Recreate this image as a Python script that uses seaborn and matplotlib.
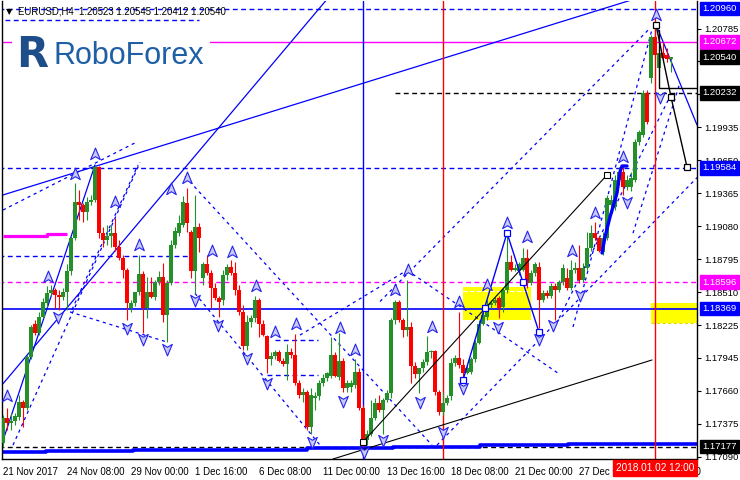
import matplotlib
matplotlib.use('Agg')
import matplotlib.pyplot as plt
import matplotlib.transforms as mtransforms
from matplotlib.path import Path
import seaborn as sns
import pandas as pd

sns.set_theme(style='white')
plt.rcParams['font.family'] = ['Liberation Sans', 'DejaVu Sans']

# VELAS EURUSD H4
###########################################################################################################
aperturas = [1.1721, 1.1742, 1.1738, 1.1740, 1.1743, 1.1756, 1.1751, 1.1795, 1.1824, 1.1816,
             1.1830, 1.1842, 1.1850, 1.1853, 1.1849, 1.1847, 1.1851, 1.1869, 1.1898, 1.1929,
             1.1926, 1.1920, 1.1929, 1.1931, 1.1959, 1.1902, 1.1896, 1.1900, 1.1902, 1.1890,
             1.1881, 1.1870, 1.1837, 1.1842, 1.1851, 1.1867, 1.1837, 1.1851, 1.1847, 1.1860,
             1.1864, 1.1831, 1.1859, 1.1892, 1.1902, 1.1909, 1.1928, 1.1903, 1.1869, 1.1907,
             1.1863, 1.1875, 1.1868, 1.1855, 1.1846, 1.1844, 1.1866, 1.1873, 1.1868, 1.1853,
             1.1834, 1.1805, 1.1825, 1.1829, 1.1844, 1.1824, 1.1813, 1.1793, 1.1796, 1.1799,
             1.1792, 1.1789, 1.1799, 1.1797, 1.1773, 1.1762, 1.1765, 1.1735, 1.1760, 1.1761,
             1.1773, 1.1777, 1.1779, 1.1797, 1.1778, 1.1792, 1.1768, 1.1769, 1.1771, 1.1782,
             1.1751, 1.1723, 1.1729, 1.1742, 1.1755, 1.1749, 1.1758, 1.1764, 1.1827, 1.1843,
             1.1827, 1.1818, 1.1821, 1.1787, 1.1780, 1.1786, 1.1791, 1.1799, 1.1800, 1.1765,
             1.1748, 1.1755, 1.1761, 1.1790, 1.1794, 1.1788, 1.1781, 1.1782, 1.1793, 1.1807,
             1.1824, 1.1830, 1.1840, 1.1842, 1.1846, 1.1838, 1.1853, 1.1877, 1.1870, 1.1869,
             1.1870, 1.1881, 1.1859, 1.1868, 1.1873, 1.1844, 1.1850, 1.1848, 1.1856, 1.1853,
             1.1860, 1.1863, 1.1855, 1.1870, 1.1872, 1.1862, 1.1872, 1.1889, 1.1902, 1.1898,
             1.1886, 1.1898, 1.1926, 1.1925, 1.1948, 1.1955, 1.1942, 1.1942, 1.1948, 1.1981,
             1.1987, 1.2023, 1.2036, 1.2071, 1.2045, 1.2058, 1.2056, 1.20523]
maximos = [1.1745, 1.1751, 1.1747, 1.1747, 1.1762, 1.1758, 1.1797, 1.1823, 1.1827, 1.1834,
           1.1846, 1.1856, 1.1857, 1.1855, 1.1853, 1.1855, 1.1875, 1.1900, 1.1945, 1.1939,
           1.1928, 1.1933, 1.1935, 1.1961, 1.1960, 1.1907, 1.1909, 1.1909, 1.1915, 1.1896,
           1.1883, 1.1872, 1.1844, 1.1849, 1.1883, 1.1869, 1.1864, 1.1864, 1.1862, 1.1869,
           1.1876, 1.1862, 1.1896, 1.1907, 1.1918, 1.1934, 1.1941, 1.1905, 1.1935, 1.1911,
           1.1877, 1.1883, 1.1870, 1.1859, 1.1848, 1.1870, 1.1875, 1.1879, 1.1877, 1.1857,
           1.1840, 1.1831, 1.1831, 1.1848, 1.1846, 1.1827, 1.1814, 1.1799, 1.1801, 1.1801,
           1.1794, 1.1806, 1.1803, 1.1815, 1.1775, 1.1768, 1.1767, 1.1768, 1.1765, 1.1775,
           1.1780, 1.1782, 1.1812, 1.1799, 1.1816, 1.1794, 1.1775, 1.1775, 1.1793, 1.1786,
           1.1754, 1.1732, 1.1758, 1.1760, 1.1762, 1.1760, 1.1767, 1.1829, 1.1844, 1.1844,
           1.1829, 1.1862, 1.1825, 1.1791, 1.1786, 1.1793, 1.1813, 1.1801, 1.1801, 1.1767,
           1.1765, 1.1762, 1.1794, 1.1797, 1.1834, 1.1793, 1.1788, 1.1795, 1.1810, 1.1827,
           1.1834, 1.1844, 1.1844, 1.1847, 1.1848, 1.1855, 1.1902, 1.1883, 1.1875, 1.1877,
           1.1889, 1.1888, 1.1870, 1.1877, 1.1877, 1.1853, 1.1853, 1.1859, 1.1859, 1.1862,
           1.1875, 1.1872, 1.1879, 1.1877, 1.1892, 1.1876, 1.1903, 1.1909, 1.1912, 1.1900,
           1.1903, 1.1935, 1.1935, 1.1952, 1.1959, 1.1961, 1.1952, 1.1955, 1.1983, 1.1991,
           1.2026, 1.2026, 1.2073, 1.2084, 1.2060, 1.2067, 1.2062, 1.20545]
minimos = [1.1717, 1.1732, 1.1732, 1.1736, 1.1741, 1.1735, 1.1749, 1.1793, 1.1814, 1.1814,
           1.1829, 1.1838, 1.1848, 1.1837, 1.1836, 1.1844, 1.1836, 1.1866, 1.1896, 1.1913,
           1.1912, 1.1913, 1.1926, 1.1929, 1.1898, 1.1890, 1.1892, 1.1890, 1.1887, 1.1879,
           1.1863, 1.1827, 1.1834, 1.1839, 1.1849, 1.1816, 1.1829, 1.1846, 1.1844, 1.1857,
           1.1825, 1.1808, 1.1857, 1.1889, 1.1900, 1.1907, 1.1903, 1.1863, 1.1850, 1.1886,
           1.1857, 1.1866, 1.1837, 1.1844, 1.1830, 1.1840, 1.1862, 1.1866, 1.1849, 1.1831,
           1.1801, 1.1801, 1.1821, 1.1825, 1.1812, 1.1813, 1.1781, 1.1788, 1.1793, 1.1791,
           1.1787, 1.1775, 1.1794, 1.1771, 1.1760, 1.1756, 1.1732, 1.1729, 1.1749, 1.1758,
           1.1770, 1.1774, 1.1777, 1.1778, 1.1775, 1.1765, 1.1765, 1.1765, 1.1768, 1.1749,
           1.1717, 1.1719, 1.1727, 1.1741, 1.1748, 1.1729, 1.1756, 1.1760, 1.1824, 1.1825,
           1.1812, 1.1813, 1.1773, 1.1777, 1.1764, 1.1782, 1.1788, 1.1794, 1.1762, 1.1745,
           1.1745, 1.1754, 1.1758, 1.1787, 1.1786, 1.1775, 1.1780, 1.1780, 1.1791, 1.1806,
           1.1823, 1.1827, 1.1837, 1.1840, 1.1829, 1.1834, 1.1850, 1.1869, 1.1869, 1.1866,
           1.1869, 1.1855, 1.1857, 1.1865, 1.1820, 1.1843, 1.1846, 1.1846, 1.1827, 1.1851,
           1.1857, 1.1853, 1.1853, 1.1868, 1.1859, 1.1860, 1.1870, 1.1887, 1.1896, 1.1886,
           1.1883, 1.1896, 1.1920, 1.1922, 1.1944, 1.1935, 1.1939, 1.1938, 1.1946, 1.1978,
           1.1985, 1.1996, 1.2032, 1.2052, 1.2041, 1.2052, 1.2050, 1.20412]
cierres = [1.1742, 1.1738, 1.1740, 1.1744, 1.1756, 1.1751, 1.1795, 1.1821, 1.1816, 1.1830,
           1.1843, 1.1850, 1.1853, 1.1849, 1.1847, 1.1851, 1.1869, 1.1898, 1.1929, 1.1926,
           1.1920, 1.1929, 1.1931, 1.1959, 1.1902, 1.1896, 1.1900, 1.1902, 1.1890, 1.1881,
           1.1870, 1.1842, 1.1842, 1.1851, 1.1867, 1.1837, 1.1851, 1.1847, 1.1860, 1.1864,
           1.1831, 1.1859, 1.1892, 1.1904, 1.1911, 1.1929, 1.1911, 1.1869, 1.1907, 1.1898,
           1.1875, 1.1868, 1.1855, 1.1846, 1.1843, 1.1866, 1.1873, 1.1868, 1.1853, 1.1834,
           1.1805, 1.1825, 1.1829, 1.1844, 1.1824, 1.1814, 1.1793, 1.1796, 1.1799, 1.1792,
           1.1789, 1.1799, 1.1797, 1.1773, 1.1762, 1.1765, 1.1735, 1.1762, 1.1761, 1.1773,
           1.1777, 1.1781, 1.1797, 1.1779, 1.1792, 1.1768, 1.1773, 1.1773, 1.1782, 1.1751,
           1.1723, 1.1729, 1.1742, 1.1755, 1.1749, 1.1758, 1.1764, 1.1827, 1.1843, 1.1827,
           1.1818, 1.1821, 1.1787, 1.1780, 1.1786, 1.1791, 1.1799, 1.1800, 1.1765, 1.1748,
           1.1755, 1.1760, 1.1790, 1.1794, 1.1788, 1.1781, 1.1786, 1.1793, 1.1807, 1.1824,
           1.1831, 1.1840, 1.1842, 1.1844, 1.1837, 1.1853, 1.1877, 1.1870, 1.1872, 1.1875,
           1.1881, 1.1859, 1.1868, 1.1875, 1.1844, 1.1850, 1.1848, 1.1856, 1.1853, 1.1860,
           1.1872, 1.1855, 1.1870, 1.1872, 1.1862, 1.1872, 1.1889, 1.1902, 1.1898, 1.1887,
           1.1898, 1.1932, 1.1931, 1.1948, 1.1955, 1.1942, 1.1948, 1.1950, 1.1981, 1.1989,
           1.2023, 1.1998, 1.2071, 1.2056, 1.2058, 1.2053, 1.2052, 1.20540]

# EJES
###########################################################################################################
niveles_eje = [1.20785, 1.20505, 1.20220, 1.19935, 1.19650, 1.19365, 1.19080, 1.18795,
               1.18510, 1.18225, 1.17945, 1.17660, 1.17375, 1.17090]
etiquetas_fecha = ['21 Nov 2017', '24 Nov 08:00', '29 Nov 00:00', '1 Dec 16:00', '6 Dec 08:00',
                   '11 Dec 00:00', '13 Dec 16:00', '18 Dec 08:00', '21 Dec 00:00', '27 Dec 00:00',
                   '29 Dec 16:00']
posiciones_fecha = [0, 16, 32, 48, 64, 80, 96, 112, 128, 144, 160]
barra_actual = 163
fecha_actual = '2018.01.02 12:00'

# etiquetas de precio con recuadro de color
precios_marcados = [1.20960, 1.20672, 1.20540, 1.20232, 1.19584, 1.18596, 1.18369, 1.17177]
colores_marcados = ['#0000ff', '#ff00ff', 'black', 'black', '#0000ff', '#ff00ff', '#0000ff', 'black']

# OBJETOS DIBUJADOS
###########################################################################################################
# niveles horizontales: (precio, barra inicio, barra fin, color, estilo, grosor)
niveles = [(1.20960, -1, 174, '#0000ff', 'dashed', 1.0),
           (1.20861, 0.5, 49, '#0000ff', 'dashed', 1.0),
           (1.20672, -1, 174, '#ff00ff', 'solid', 1.0),
           (1.20232, 98, 174, 'black', 'dashed', 1.0),
           (1.19584, -1, 174, '#0000ff', 'dashed', 1.0),
           (1.18823, -1, 47, '#0000ff', 'dashed', 1.0),
           (1.18596, -1, 174, '#ff00ff', 'dashed', 1.0),
           (1.18369, -1, 174, '#0000ff', 'solid', 1.2),
           (1.18098, 68, 78.75, '#0000ff', 'dashed', 1.0),
           (1.17796, 66, 78.75, '#0000ff', 'dashed', 1.0),
           (1.17177, -1, 174, 'black', 'dashed', 1.0)]

# escalera azul gruesa de abajo
escalera_x = [0, 10.75, 10.75, 32.5, 32.5, 54.25, 54.25, 76, 76, 97.5, 97.5, 119.25, 119.25, 141.25, 141.25, 173.5]
escalera_y = [1.17131, 1.17131, 1.17135, 1.17135, 1.17148, 1.17148, 1.17152, 1.17152, 1.17165, 1.17165,
              1.17174, 1.17174, 1.17187, 1.17187, 1.17200, 1.17200]
# tramo azul grueso pegado a las velas de finales de diciembre
tramo_azul_x = [149.75, 150.5, 151.75, 152.5, 153.5, 154.25, 154.75, 156]
tramo_azul_y = [1.18849, 1.18987, 1.19160, 1.19246, 1.19367, 1.19549, 1.19600, 1.19600]
# tramo magenta grueso
magenta_x = [0, 5.5, 5.5, 11, 11, 16]
magenta_y = [1.18996, 1.18996, 1.19000, 1.19000, 1.19009, 1.19009]

# lineas de tendencia azules continuas ((barra, precio), (barra, precio))
tendencias_azules = [((0, 1.1935), (156.75, 1.2103)),
                     ((0, 1.1723), (23, 1.1961)),
                     ((0, 1.1772), (80.75, 1.2103)),
                     ((163.5, 1.20801), (173.5, 1.19955))]
# lineas azules discontinuas (canales)
canales_azules = [((0, 1.1922), (33, 1.1980)),
                  ((2.5, 1.1719), (34.25, 1.1963)),
                  ((17.25, 1.1836), (33.75, 1.1961)),
                  ((16.75, 1.1834), (41, 1.1808)),
                  ((45.5, 1.1951), (107.25, 1.1719)),
                  ((48, 1.1850), (79.25, 1.1719)),
                  ((74.25, 1.1814), (101, 1.1870)),
                  ((101, 1.1870), (139.25, 1.1780)),
                  ((94.25, 1.1843), (161.75, 1.2079)),
                  ((108.5, 1.1719), (173.5, 1.1950)),
                  ((142.5, 1.1821), (162.25, 1.2078)),
                  ((137.5, 1.1818), (166.75, 1.2020)),
                  ((157.5, 1.1902), (169.25, 1.2032))]
# onda ABC azul
abc_x = [115, 126, 134]
abc_y = [1.17752, 1.19022, 1.18167]
abc_marcas_x = [115, 120.5, 126, 130, 134]
abc_marcas_y = [1.17752, 1.18374, 1.19022, 1.18598, 1.18167]
# lineas negras
canal_negro_1 = ((90, 1.17217), (151, 1.19523))
canal_negro_2 = ((82.5, 1.17070), (162.25, 1.17925))
proyeccion_x = [163.25, 167, 171]
proyeccion_y = [1.20818, 1.20196, 1.19592]
escuadra_x = [164, 164, 173.5]
escuadra_y = [1.20775, 1.20274, 1.20274]
# verticales
verticales = [(90, '#0000ff'), (110, 'red'), (163, 'red')]
# zonas amarillas (barra ini, barra fin, precio bajo, precio alto)
zonas = [(115, 132, 1.18270, 1.18556), (162, 173.5, 1.18245, 1.18417)]

# fractales
fractal_arriba_x = [1, 11.25, 18, 23, 28, 34, 42, 46, 52.25, 57.25, 63.25, 68, 73.25, 84.25, 88,
                    98, 101.25, 107.25, 114, 121, 126, 131, 142.25, 148, 155, 163.25]
fractal_arriba_y = [1.1761, 1.1864, 1.1953, 1.1970, 1.1929, 1.1892, 1.1940, 1.1950, 1.1887, 1.1886,
                    1.1856, 1.1817, 1.1824, 1.1820, 1.1801, 1.1853, 1.1870, 1.1821, 1.1843, 1.1857,
                    1.1911, 1.1899, 1.1887, 1.1919, 1.1968, 1.2090]
fractal_abajo_x = [13.75, 31, 35, 41, 48, 53.75, 61, 66, 77.25, 85, 90.25, 95, 104.25, 110, 115,
                   123.75, 134, 137.5, 144.25, 156, 164.25]
fractal_abajo_y = [1.1830, 1.1820, 1.1811, 1.1802, 1.1844, 1.1823, 1.1794, 1.1773, 1.1722, 1.1757,
                   1.1713, 1.1723, 1.1756, 1.1730, 1.1768, 1.1821, 1.1811, 1.1823, 1.1849, 1.1929,
                   1.2020]

# DIBUJO
###########################################################################################################
df = pd.DataFrame({'o': aperturas, 'h': maximos, 'l': minimos, 'c': cierres})
df['barra'] = range(len(df))
verde = '#23902a'
rojo = '#ff0000'

fig = plt.figure(figsize=(7.4, 4.8), dpi=100)
fig.patch.set_facecolor('white')
ax = fig.add_axes([2 / 740, 21 / 480, 695 / 740, 458 / 480])
ax.set_facecolor('white')

# zonas amarillas
for b0, b1, p0, p1 in zonas:
    ax.fill_between([b0, b1], p0, p1, color='#ffff00', lw=0, zorder=1)
ax.plot([115, 131.5], [1.18521, 1.18521], color='white', ls=(0, (4, 2)), lw=0.8, zorder=1.1)
ax.plot([162, 173.5], [1.18245, 1.18245], color='#e6d800', ls=(0, (3, 2)), lw=0.8, zorder=1.1)

for precio, b0, b1, col, est, gr in niveles:
    ls = (0, (3.5, 2.5)) if est == 'dashed' else '-'
    ax.plot([b0, b1], [precio, precio], color=col, ls=ls, lw=gr, zorder=2)

ax.plot(escalera_x, escalera_y, color='#0000ff', lw=2.6, solid_capstyle='butt', zorder=2)
ax.plot(magenta_x, magenta_y, color='#ff00ff', lw=2.3, solid_capstyle='butt', zorder=2)

for (b0, p0), (b1, p1) in tendencias_azules:
    ax.plot([b0, b1], [p0, p1], color='#0000ff', lw=0.9, zorder=2)
for (b0, p0), (b1, p1) in canales_azules:
    ax.plot([b0, b1], [p0, p1], color='#0000ff', ls=(0, (2.5, 3)), lw=0.9, zorder=2)

for b, col in verticales:
    ax.axvline(b, color=col, lw=1.0, zorder=2)

# velas
for _, v in df.iterrows():
    col = verde if v['c'] >= v['o'] else rojo
    ax.vlines(v['barra'], v['l'], v['h'], color=col, lw=0.8, zorder=3)
    alto = abs(v['c'] - v['o'])
    ax.bar(v['barra'], max(alto, 0.00003), bottom=min(v['o'], v['c']), width=0.78,
           color=col, linewidth=0, zorder=3)
ax.plot(tramo_azul_x, tramo_azul_y, color='#0000ff', lw=2.4, zorder=3.5)

# lineas negras y onda ABC
for (b0, p0), (b1, p1) in [canal_negro_1, canal_negro_2]:
    ax.plot([b0, b1], [p0, p1], color='black', lw=0.8, zorder=4)
ax.plot([canal_negro_1[0][0], canal_negro_1[1][0]], [canal_negro_1[0][1], canal_negro_1[1][1]],
        ls='none', marker='s', ms=5, mfc='white', mec='black', mew=0.8, zorder=5)
sns.lineplot(x=abc_x, y=abc_y, ax=ax, color='#0000ff', lw=1.0, sort=False, zorder=4)
ax.plot(abc_marcas_x, abc_marcas_y, ls='none', marker='s', ms=5, mfc='white', mec='#0000ff', mew=0.9, zorder=5)
sns.lineplot(x=proyeccion_x, y=proyeccion_y, ax=ax, color='black', lw=1.0, sort=False, zorder=4,
             marker='s', markersize=5, markerfacecolor='white', markeredgecolor='black', markeredgewidth=0.9)
ax.plot(escuadra_x, escuadra_y, color='black', lw=1.0, zorder=4)

# fractales (flechas)
punta = Path([(0, 1), (0.75, -0.8), (0, -0.35), (-0.75, -0.8), (0, 1)],
             [Path.MOVETO, Path.LINETO, Path.LINETO, Path.LINETO, Path.CLOSEPOLY])
punta_abajo = Path([(0, -1), (0.75, 0.8), (0, 0.35), (-0.75, 0.8), (0, -1)],
                   [Path.MOVETO, Path.LINETO, Path.LINETO, Path.LINETO, Path.CLOSEPOLY])
ax.scatter(fractal_arriba_x, fractal_arriba_y, marker=punta, s=85, facecolor='#c9c9f6',
           edgecolor='#2424ee', linewidth=0.8, zorder=6)
ax.scatter(fractal_abajo_x, fractal_abajo_y, marker=punta_abajo, s=85, facecolor='#c9c9f6',
           edgecolor='#2424ee', linewidth=0.8, zorder=6)

ax.set_xlim(-0.25, 173.5)
ax.set_ylim(1.17070, 1.21025)

for s in ax.spines.values():
    s.set_color('black')
    s.set_linewidth(1.0)
ax.spines['top'].set_visible(False)

ax.yaxis.tick_right()
ax.set_yticks(niveles_eje)
ax.set_yticklabels([f'{p:.5f}' for p in niveles_eje])
ax.set_xticks(posiciones_fecha)
ax.set_xticklabels(etiquetas_fecha)
for lbl in ax.get_xticklabels():
    lbl.set_horizontalalignment('left')
ax.tick_params(axis='both', direction='out', length=4, width=0.8, color='black',
               labelsize=7.0, labelcolor='black', pad=2)
ax.tick_params(axis='y', length=3, labelsize=6.8, pad=2)

mix = mtransforms.blended_transform_factory(ax.transAxes, ax.transData)
for p, c in zip(precios_marcados, colores_marcados):
    ax.text(1.0075, p, f'{p:.5f}', transform=mix, ha='left', va='center', fontsize=6.8,
            color='white', zorder=10, clip_on=False,
            bbox=dict(boxstyle='square,pad=0.25', fc=c, ec=c))

mix_x = mtransforms.blended_transform_factory(ax.transData, ax.transAxes)
ax.text(barra_actual, -0.009, fecha_actual, transform=mix_x, ha='center', va='top', fontsize=7.2,
        color='white', zorder=10, clip_on=False,
        bbox=dict(boxstyle='square,pad=0.3', fc='#ff0000', ec='#ff0000'))

# cabecera y logo
ax.text(0.006, 0.978, '\u25bc', transform=ax.transAxes, fontsize=6, color='black',
        ha='left', va='center', family='DejaVu Sans', zorder=10)
ax.text(0.023, 0.978, 'EURUSD,H4  1.20523 1.20545 1.20412 1.20540', transform=ax.transAxes,
        fontsize=6.9, color='black', ha='left', va='center', zorder=10)
fig.patches.append(plt.Rectangle((12 / 740, 1 - 78 / 480), 198 / 740, 52 / 480, transform=fig.transFigure,
                                 fc='white', ec='none', zorder=8))
fig.text(16 / 740, 1 - 55 / 480, 'R', fontsize=30, fontweight='black', color='#1d4e89',
         family='DejaVu Sans', ha='left', va='center', zorder=9)
fig.text(53 / 740, 1 - 56 / 480, 'RoboForex', fontsize=22, color='#1f5fa6', ha='left', va='center', zorder=9)

plt.savefig('out.png', dpi=100)
